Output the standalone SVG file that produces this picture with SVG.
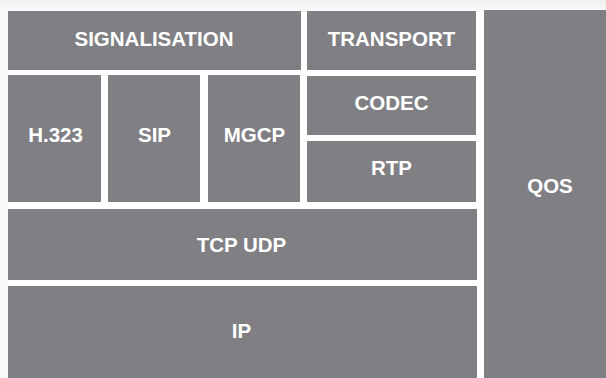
<svg xmlns="http://www.w3.org/2000/svg" width="606" height="378" viewBox="0 0 606 378">
<defs>
<linearGradient id="topfade" x1="0" y1="0" x2="0" y2="1">
<stop offset="0" stop-color="#f0f0f0"/>
<stop offset="1" stop-color="#fbfbfb"/>
</linearGradient>
<style>
.box{fill:#808084;}
.lbl{fill:#ffffff;font-family:"Liberation Sans",Arial,sans-serif;font-weight:bold;font-size:20.5px;text-anchor:middle;}
</style>
</defs>
<rect x="0" y="0" width="606" height="378" fill="#ffffff"/>
<rect x="0" y="0" width="606" height="12" fill="url(#topfade)"/>
<rect x="0" y="12" width="8" height="366" fill="#f9f9f9"/>
<g id="signalisation"><rect class="box" x="8" y="11" width="293" height="59"/><text class="lbl" x="154" y="46">SIGNALISATION</text></g>
<g id="transport"><rect class="box" x="307" y="11" width="169" height="59"/><text class="lbl" x="391.5" y="46">TRANSPORT</text></g>
<g id="h323"><rect class="box" x="8" y="75" width="93" height="127"/><text class="lbl" x="55.5" y="142">H.323</text></g>
<g id="sip"><rect class="box" x="108" y="75" width="92" height="127"/><text class="lbl" x="154.5" y="142">SIP</text></g>
<g id="mgcp"><rect class="box" x="208" y="75" width="92" height="127"/><text class="lbl" x="254.5" y="142">MGCP</text></g>
<g id="codec"><rect class="box" x="307" y="76" width="169" height="59"/><text class="lbl" x="391.5" y="110">CODEC</text></g>
<g id="rtp"><rect class="box" x="307" y="141" width="169" height="61"/><text class="lbl" x="391.5" y="175">RTP</text></g>
<g id="tcpudp"><rect class="box" x="8" y="209" width="469" height="71"/><text class="lbl" x="241.5" y="251.5">TCP UDP</text></g>
<g id="ip"><rect class="box" x="8" y="286" width="469" height="92"/><text class="lbl" x="241.5" y="338">IP</text></g>
<g id="qos"><rect class="box" x="484" y="10" width="122" height="368"/><text class="lbl" x="550" y="193">QOS</text></g>
<g id="connectors"></g>
</svg>
